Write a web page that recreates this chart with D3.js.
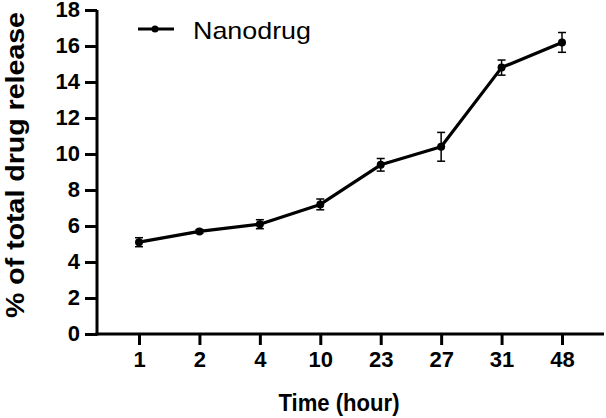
<!DOCTYPE html>
<html>
<head>
<meta charset="utf-8">
<script src="https://cdn.jsdelivr.net/npm/d3@7"></script>
<style>
  body { margin: 0; background: #fff; }
  svg text { font-family: "Liberation Sans", Arial, sans-serif; }
</style>
</head>
<body>
<div id="app"></div>
<script>
  // data
  const hours = ['1', '2', '4', '10', '23', '27', '31', '48']
  const release = [5.1, 5.7, 6.1, 7.2, 9.4, 10.4, 14.8, 16.2]
  const errors = [0.25, 0.1, 0.25, 0.3, 0.35, 0.8, 0.42, 0.55]
  const yTicks = [0, 2, 4, 6, 8, 10, 12, 14, 16, 18]
  const seriesName = 'Nanodrug'

  const w = 606, h = 418
  const svg = d3.select('#app').append('svg')
                .attr('width', w)
                .attr('height', h)

  const xScale = d3.scalePoint()
                   .domain(hours)
                   .range([139, 562])
  const yScale = d3.scaleLinear()
                   .domain([0, 18])
                   .range([334, 10])

  // y axis
  const yAxis = svg.append('g')
                   .attr('transform', 'translate(97,0)')
                   .call(d3.axisLeft(yScale).tickValues(yTicks).tickSize(12).tickPadding(5))
  yAxis.select('.domain').attr('d', 'M0,' + yScale(18) + 'V' + (yScale(0) + 1.5))
  yAxis.selectAll('.tick text').attr('dy', '0.3em')
  // x axis
  const xAxis = svg.append('g')
                   .attr('transform', 'translate(0,' + yScale(0) + ')')
                   .call(d3.axisBottom(xScale).tickSize(11).tickPadding(6))
  xAxis.select('.domain').attr('d', 'M95.5,0H604')

  svg.selectAll('.domain, .tick line')
     .attr('stroke', '#000')
     .attr('stroke-width', 3)
  svg.selectAll('.tick text')
     .attr('fill', '#000')
     .style('font-size', '22px')
     .style('font-weight', 'bold')

  // line
  const pts = hours.map((d, i) => ({ h: d, v: release[i], e: errors[i] }))
  const line = d3.line()
                 .x(d => xScale(d.h))
                 .y(d => yScale(d.v))
  svg.append('path')
     .datum(pts)
     .attr('d', line)
     .attr('fill', 'none')
     .attr('stroke', '#000')
     .attr('stroke-width', 3.2)
     .attr('stroke-linejoin', 'round')

  // error bars
  const eb = svg.append('g').attr('stroke', '#000').attr('stroke-width', 1.5)
  pts.forEach(d => {
    const x = xScale(d.h)
    const y1 = yScale(d.v + d.e), y2 = yScale(d.v - d.e)
    eb.append('line').attr('x1', x).attr('x2', x).attr('y1', y1).attr('y2', y2)
    eb.append('line').attr('x1', x - 4).attr('x2', x + 4).attr('y1', y1).attr('y2', y1)
    eb.append('line').attr('x1', x - 4).attr('x2', x + 4).attr('y1', y2).attr('y2', y2)
  })

  svg.selectAll('circle.pt')
     .data(pts)
     .enter()
     .append('circle')
     .attr('class', 'pt')
     .attr('cx', d => xScale(d.h))
     .attr('cy', d => yScale(d.v))
     .attr('r', 4)
     .attr('fill', '#000')

  // legend
  svg.append('line')
     .attr('x1', 138).attr('x2', 174).attr('y1', 29).attr('y2', 29)
     .attr('stroke', '#000').attr('stroke-width', 3)
  svg.append('circle').attr('cx', 155).attr('cy', 29).attr('r', 3.5).attr('fill', '#000')
  svg.append('text')
     .attr('x', 193).attr('y', 39)
     .style('font-size', '24px')
     .attr('textLength', 118)
     .attr('lengthAdjust', 'spacingAndGlyphs')
     .text(seriesName)

  // axis labels
  svg.append('text')
     .attr('text-anchor', 'middle')
     .attr('x', 339).attr('y', 411)
     .style('font-size', '24px')
     .style('font-weight', 'bold')
     .attr('textLength', 121)
     .attr('lengthAdjust', 'spacingAndGlyphs')
     .text('Time (hour)')
  svg.append('text')
     .attr('text-anchor', 'middle')
     .attr('transform', 'translate(24,165) rotate(-90)')
     .style('font-size', '25px')
     .style('font-weight', 'bold')
     .attr('textLength', 306)
     .attr('lengthAdjust', 'spacingAndGlyphs')
     .text('% of total drug release')
</script>
</body>
</html>
